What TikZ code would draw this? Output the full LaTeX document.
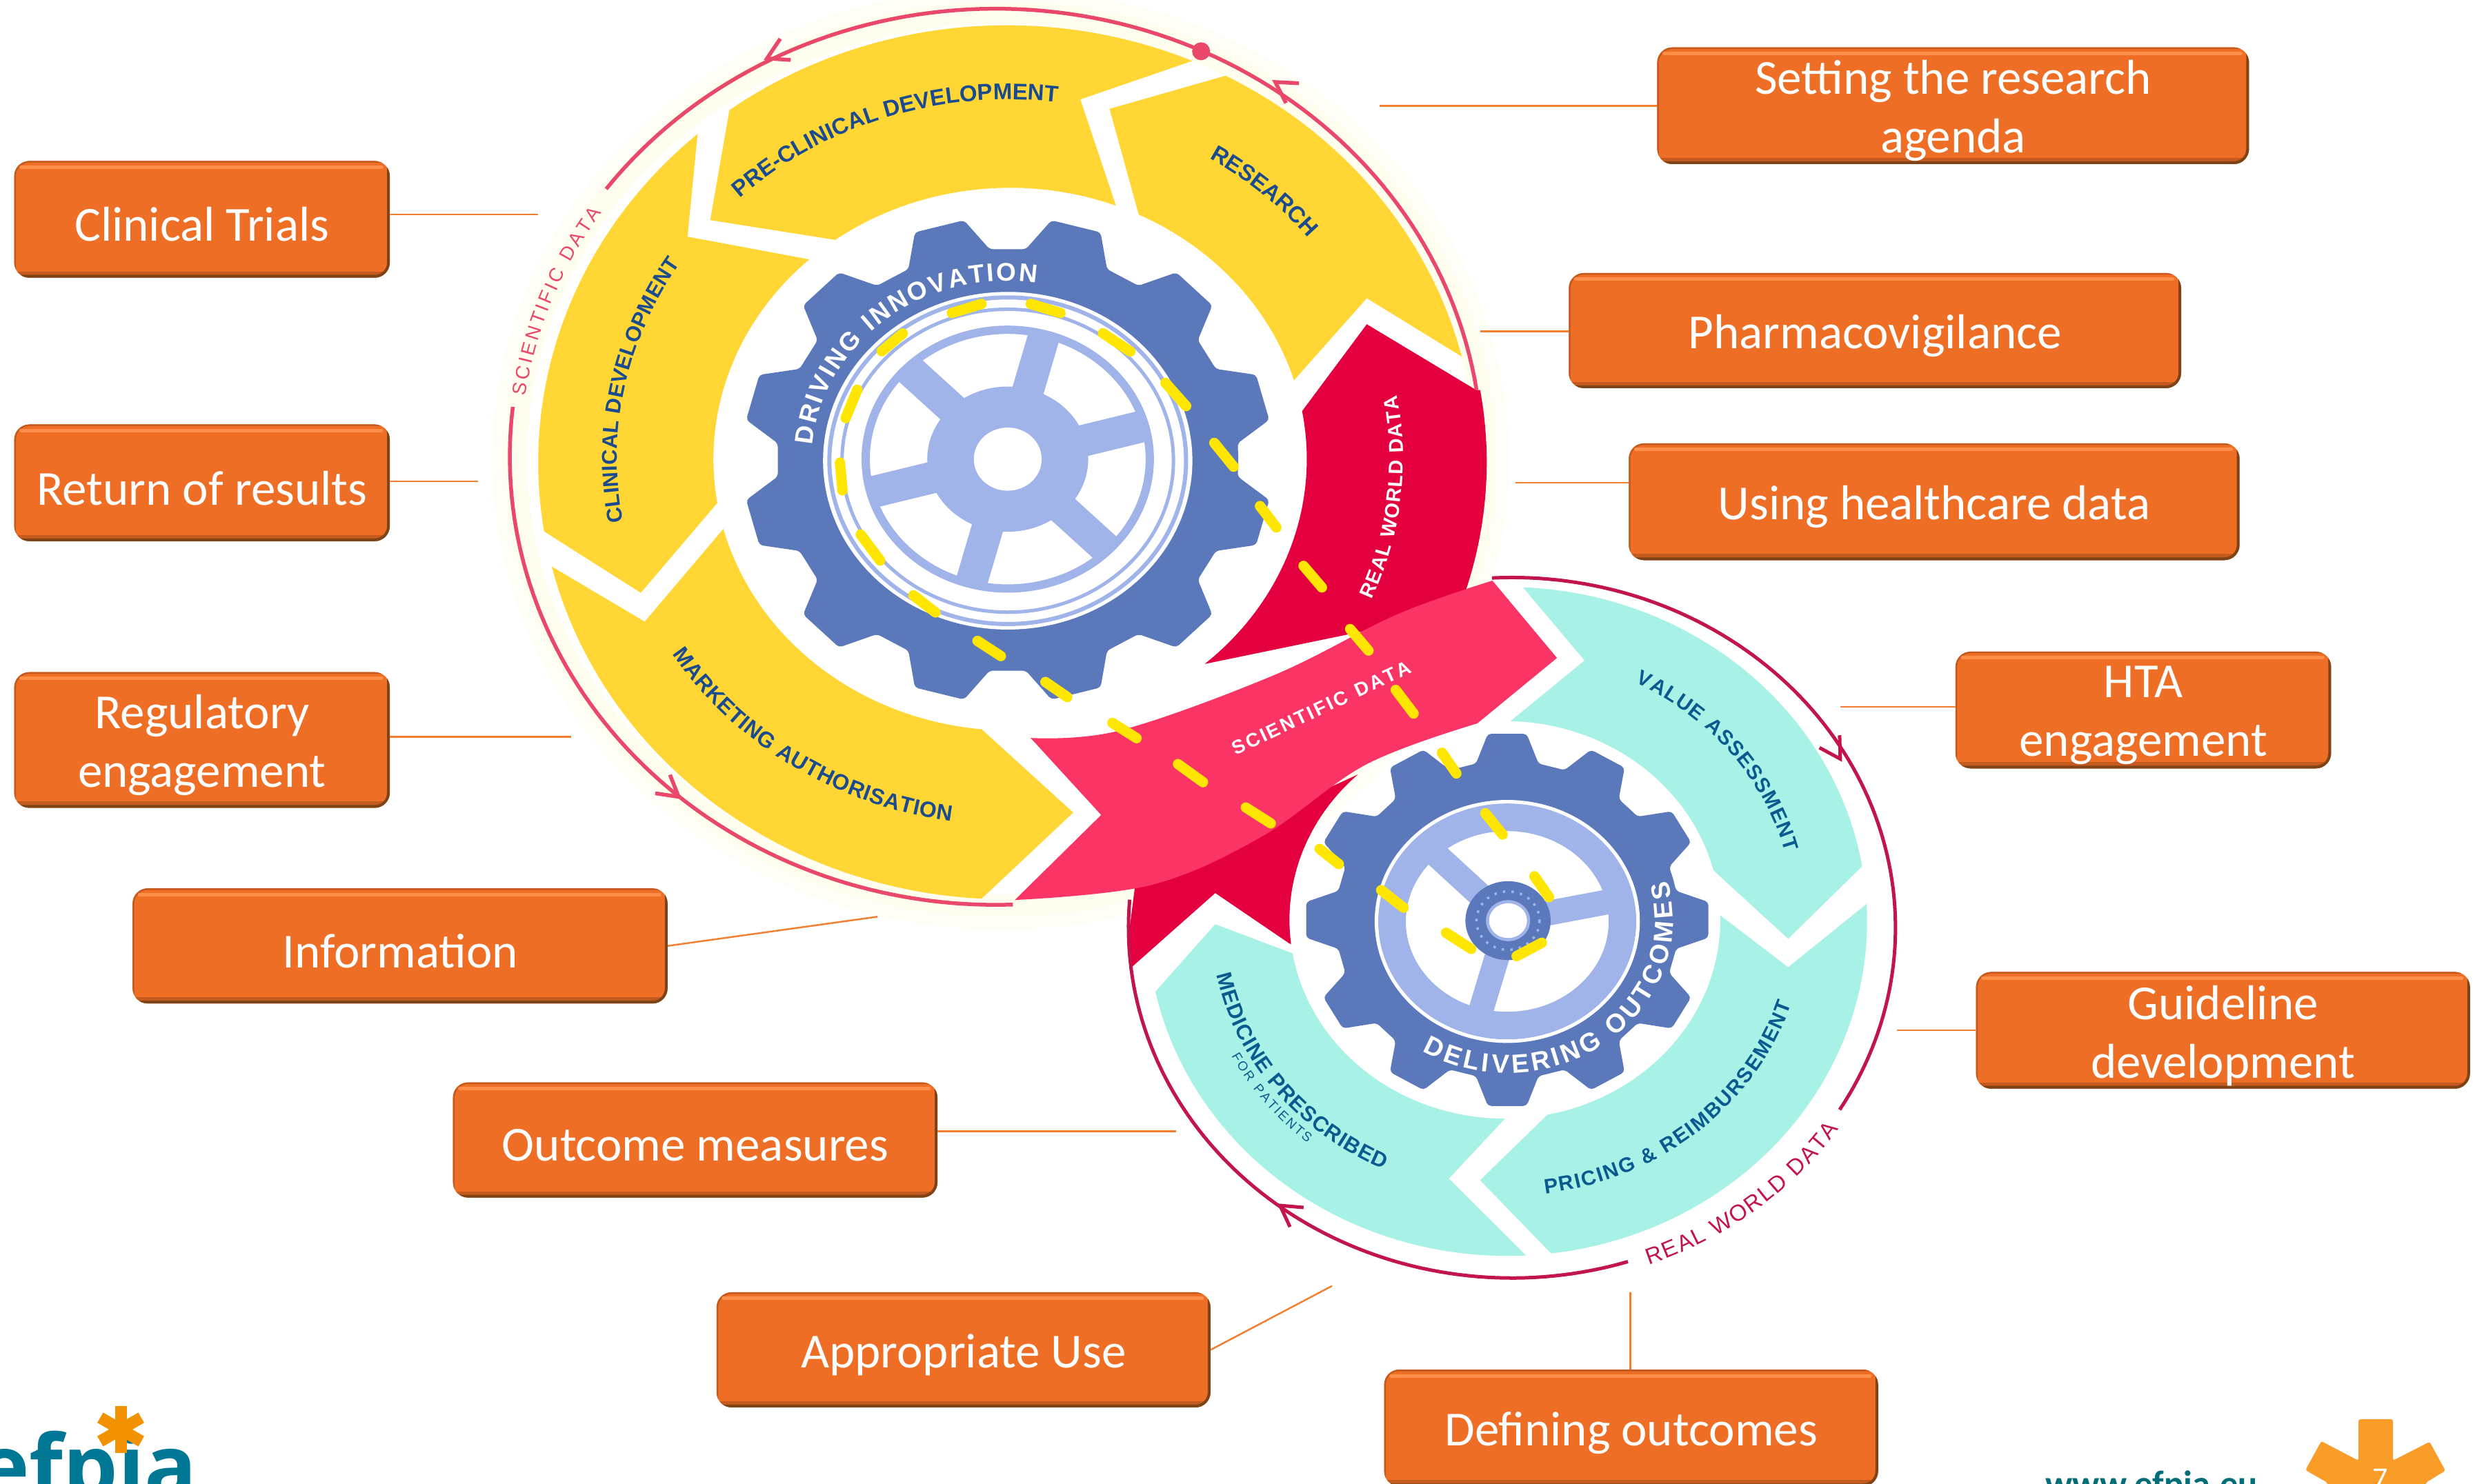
\documentclass[tikz,border=0pt]{standalone}
\usepackage{fontspec}
\setmainfont{Carlito}
\newfontfamily\lab{Liberation Sans}
\newfontfamily\logofont{Open Sans}
\usetikzlibrary{decorations.text,calc}
\definecolor{boxo}{HTML}{EE6E26}
\definecolor{boxdark}{HTML}{7E4418}
\definecolor{boxmid}{HTML}{C55A1F}
\definecolor{boxlight}{HTML}{FF8F48}
\definecolor{yel}{HTML}{FFD633}
\definecolor{ydash}{HTML}{FFE600}
\definecolor{dred}{HTML}{E4003F}
\definecolor{pinkb}{HTML}{FA3465}
\definecolor{teal1}{HTML}{A8F1E6}
\definecolor{gearb}{HTML}{5B79BA}
\definecolor{gearl}{HTML}{A0B4EA}
\definecolor{navy}{HTML}{1B4B8F}
\definecolor{tnavy}{HTML}{0B5A8F}
\definecolor{lineup}{HTML}{E9486A}
\definecolor{linelo}{HTML}{C2154B}
\definecolor{conn}{HTML}{F28030}
\definecolor{efteal}{HTML}{007794}
\definecolor{webteal}{HTML}{006D77}
\definecolor{ast1}{HTML}{F39200}
\definecolor{ast2}{HTML}{FA9C28}
\newcommand\earc[6]{-- plot[domain=#5:#6,samples=48] ({#1+#3*cos(\x)},{#2+#4*sin(\x)})}
\newcommand\outerY[2]{\earc{638}{293}{297}{277}{#1}{#2}}
\newcommand\innerY[2]{\earc{640}{291}{188}{172}{#1}{#2}}
\newcommand\outerT[2]{\earc{955}{584}{228}{212}{#1}{#2}}
\newcommand\innerT[2]{\earc{953.5}{583}{136.5}{126}{#1}{#2}}
% arc label: cx cy rx ry t0 t1 font+colour text
\newcommand\arclabel[8]{\path[decorate,decoration={text along path,text align={fit to path},text={|#7|#8}}] plot[domain=#5:#6,samples=60] ({#1+#3*cos(\x)},{#2+#4*sin(\x)});}
\newcommand\gearshape[7]{% cx cy rx ry root first n-list
  \fill[gearb,rounded corners=5pt] ({#1+#5*#3*cos(#6-15)},{#2+#5*#4*sin(#6-15)})
  \foreach \g in {#7}{
    -- ({#1+#5*#3*cos(#6+\g-10.5)},{#2+#5*#4*sin(#6+\g-10.5)})
    -- ({#1+#3*cos(#6+\g-5.5)},{#2+#4*sin(#6+\g-5.5)})
    -- ({#1+#3*cos(#6+\g+5.5)},{#2+#4*sin(#6+\g+5.5)})
    -- ({#1+#5*#3*cos(#6+\g+10.5)},{#2+#5*#4*sin(#6+\g+10.5)})
  } -- cycle;}
\newcommand\vhead[4]{\draw[#1,line join=miter] ([shift={(#4+150:15)}]#2,#3) -- (#2,#3) -- ([shift={(#4-150:15)}]#2,#3);}
\newcommand\obox[6]{\node[obox,minimum width={(#4-#2+1)*2.288pt},minimum height={(#5-#3+1)*2.288pt}] (#1) at ({(#2+#4+1)/2},{(#3+#5+1)/2}) {};
  \node[oboxtext] (#1text) at ([yshift=-7.5pt]#1.center) {#6};}
\tikzset{
  obox/.style={rounded corners=22pt,fill=boxo,inner sep=0pt,
    path picture={
      \draw[boxmid,line width=18pt] (path picture bounding box.south west)--(path picture bounding box.south east);
      \draw[boxdark,line width=8pt] (path picture bounding box.south west)--(path picture bounding box.south east)--(path picture bounding box.north east);
      \draw[boxmid,line width=5pt] (path picture bounding box.south west)--(path picture bounding box.north west)--(path picture bounding box.north east);
      \draw[boxlight,line width=5pt,line cap=round] ([xshift=10pt,yshift=-9pt]path picture bounding box.north west)--([xshift=-12pt,yshift=-9pt]path picture bounding box.north east);
    }},
  oboxtext/.style={inner sep=0pt,text=white,align=center,font=\fontsize{71}{85}\selectfont},
  connector/.style={conn,line width=2.5pt},
  upl/.style={lineup,line width=5.5pt},
  lowl/.style={linelo,line width=5pt},
  yd/.style={ydash,line width=15pt,line cap=round,shorten >=5pt,shorten <=5pt},
}
\begin{document}
\begin{tikzpicture}[x=2.288pt,y=-2.288pt]
\clip (0,0) rectangle (1568.18,940.13);
\fill[white] (0,0) rectangle (1568.18,940.13);
% glow
\fill[color={rgb,255:red,255;green,254;blue,246}] (634,291) ellipse [x radius=322,y radius=298];
\fill[color={rgb,255:red,255;green,253;blue,238}] (634,291) ellipse [x radius=314,y radius=290];
\fill[white] (634,291) ellipse [x radius=300,y radius=276];
% yellow segments
\fill[yel] (703,69) \outerY{-62.2}{-14} -- (866,189) \innerY{-16.9}{-64.3} -- cycle;
\fill[yel] (450,139.5) \outerY{-126.3}{-66.7} -- (684.5,63) \innerY{-69.1}{-126.1} -- cycle;
\fill[yel] (406,375.7) \outerY{170.9}{228.7} -- (435.6,150) \innerY{227.4}{170.7} -- cycle;
\fill[yel] (408.5,394) \outerY{166.2}{93.1} -- (680,515) \innerY{95.5}{165.1} -- cycle;
% dark red
\fill[dred] (866,205.5) -- (935,247) \earc{640}{293}{302}{277}{-9.5}{20} \innerY{49}{-10.2} -- cycle;
\fill[dred] (770,566) -- (817,598) \innerT{173}{227} -- (720,555) -- (715.5,590) -- (717,613) -- cycle;
% teal segments
\fill[teal1] (1004,418.6) \outerT{-87.5}{-9.5} -- (1133,595) \innerT{-14.4}{-88.5} -- cycle;
\fill[teal1] (1133,613) \outerT{-3}{83} -- (937.8,748) \innerT{78.6}{-1.3} -- cycle;
\fill[teal1] (770,585.8) \outerT{167.9}{87} -- (918,747) \innerT{90}{170.3} -- cycle;
% pink band
\fill[pinkb] (653,467.7) -- plot[smooth,tension=.6] coordinates {(653,467.7)(709.5,463)(807,428)(885,389.5)(945.6,368)}
  -- (986.5,417) -- plot[smooth,tension=.6] coordinates {(936,458.5)(865.6,484.5)(799,530.5)(729,561)(643,570.4)}
  -- (697.7,516.5) -- cycle;
% circular lines
\draw[upl] plot[domain=216.7:351.4,samples=90] ({631+308*cos(\x)},{289.5+284*sin(\x)});
\draw[upl] plot[domain=186.4:88,samples=70] ({631+308*cos(\x)},{289.5+284*sin(\x)});
\fill[lineup] (761,32.5) circle[radius=13pt];
\vhead{upl}{486}{37}{153.9}
\vhead{upl}{808}{52}{212.9}
\vhead{upl}{430}{505}{38.5}
\draw[lowl] plot[domain=-93:31.3,samples=90] ({958+243*cos(\x)},{588+222*sin(\x)});
\draw[lowl] plot[domain=72.4:184.6,samples=80] ({958+243*cos(\x)},{588+222*sin(\x)});
\vhead{lowl}{1166}{481}{58.4}
\vhead{lowl}{811}{764}{215}
% big gear
\gearshape{638.5}{291.5}{168}{154}{0.87}{15}{0,30,60,90,120,150,180,210,240,270,300,330}
\fill[white] (638.5,292) ellipse [x radius=117,y radius=107];
\draw[gearl,line width=6pt] (638.5,292) ellipse [x radius=113,y radius=103.5];
\draw[gearl,line width=5pt] (638.5,292) ellipse [x radius=105,y radius=96];
\draw[gearl,line width=12pt] (638.5,291) ellipse [x radius=90,y radius=82];
\foreach \a in {-75,-15,45,105,165,225}
  \draw[gearl,line width=46pt] (638.5,291) -- ({638.5+88*cos(\a)},{291+80*sin(\a)});
\fill[gearl] (638.5,291) ellipse [x radius=51,y radius=46];
\fill[white] (638.5,291) ellipse [x radius=21.5,y radius=20];
% small gear
\gearshape{955}{583}{128}{118.5}{0.85}{0}{0,30,60,90,120,150,180,210,240,270,300,330}
\fill[white] (955,584) ellipse [x radius=84,y radius=77];
\draw[gearl,line width=40pt] (955,584) ellipse [x radius=73,y radius=66];
\foreach \a in {-12,105,226}
  \draw[gearl,line width=36pt] (955.5,583.5) -- ({955.5+70*cos(\a)},{583.5+62*sin(\a)});
\fill[gearb] (955.5,583.5) ellipse [x radius=27,y radius=25];
\draw[gearl,line width=3.5pt,dash pattern=on 3.5pt off 9pt] (955.5,583.5) ellipse [x radius=20,y radius=18.5];
\fill[gearl] (955.5,583.5) ellipse [x radius=14,y radius=13];
\fill[white] (955.5,583.5) ellipse [x radius=12,y radius=11];
% yellow dashes
\foreach \xa/\ya/\xb/\yb in {601/199/624/192,651/192/674/199,697/210/718/224,737/241/753/259,768/279/783/297.5,797/319/810/336,824.5/357/839/374,854/397/868.5/414,883/435.5/897/454,573.6/210/557/224,544/245/535/267,532/291/534/313,544/337/559/357,577/376/594.5/389.5,617.5/405/636/417,660.6/431/678/443,703/457/722/469,744.6/483/764/497,787.5/510.6/807/523,834.4/536.7/850/549,873.4/562.8/891/576.6,914.4/590/934/602.6,959/607/978.8/596.5,971/553.6/982.7/570.4,939.7/513.7/953.4/530.6,912.4/475.3/924/492}
  \draw[yd] (\xa,\ya) -- (\xb,\yb);
% arc labels
\newcommand\bl[1]{\lab\bfseries\fontsize{#1}{#1}\selectfont}
\arclabel{640}{291}{249}{228}{-133.5}{-83}{\bl{33}\color{navy}}{PRE-CLINICAL DEVELOPMENT}
\arclabel{640}{291}{243}{223}{-58.7}{-39}{\bl{33}\color{navy}}{RESEARCH}
\arclabel{640}{291}{249}{228}{170}{213}{\bl{31}\color{navy}}{CLINICAL DEVELOPMENT}
\arclabel{640}{291}{253}{232}{147.8}{98.4}{\bl{32}\color{navy}}{MARKETING AUTHORISATION}
\arclabel{640}{291}{249}{228}{23}{-10.3}{\bl{29}\color{white}}{REAL WORLD DATA}
\arclabel{631}{289.5}{301}{277}{188}{214}{\lab\fontsize{28}{28}\selectfont\color{lineup}}{SCIENTIFIC DATA}
\arclabel{638.5}{291.5}{124}{113.5}{184.8}{278.6}{\bl{37}\color{white}}{DRIVING INNOVATION}
\path[decorate,decoration={text along path,text align={fit to path},text={|\bl{28}\color{white}|SCIENTIFIC DATA}}] plot[smooth] coordinates {(783,479)(840,452)(895,426)};
\arclabel{955}{583}{182}{168}{-63.5}{-14.8}{\bl{30}\color{tnavy}}{VALUE ASSESSMENT}
\arclabel{955}{583}{189}{175}{82.7}{17.6}{\bl{30}\color{tnavy}}{PRICING {\&} REIMBURSEMENT}
\arclabel{955}{583}{188}{174}{168.5}{114.6}{\bl{31}\color{tnavy}}{MEDICINE PRESCRIBED}
\arclabel{955}{583}{198}{184}{152}{129.7}{\lab\fontsize{19}{19}\selectfont\color{tnavy}}{FOR PATIENTS}
\arclabel{955}{583}{105}{97}{121}{-14.9}{\bl{38}\color{white}}{DELIVERING OUTCOMES}
\arclabel{958}{588}{250}{228}{69.7}{34}{\lab\fontsize{33}{33}\selectfont\color{linelo}}{REAL WORLD DATA}
% boxes
\obox{setting}{1050}{30}{1424}{103}{Setting the research\\agenda}
\obox{pharma}{994}{173}{1381}{245}{Pharmacovigilance}
\obox{using}{1032}{281}{1418}{354}{Using healthcare data}
\obox{hta}{1239}{413}{1476}{486}{HTA\\engagement}
\obox{guide}{1252}{616}{1564}{689}{Guideline\\development}
\obox{defining}{877}{868}{1189}{941}{Defining outcomes}
\obox{appro}{454}{819}{766}{891}{Appropriate Use}
\obox{outcome}{287}{686}{593}{758}{Outcome measures}
\obox{info}{84}{563}{422}{635}{Information}
\obox{regul}{9}{426}{246}{511}{Regulatory\\engagement}
\obox{return}{9}{269}{246}{342}{Return of results}
\obox{clinical}{9}{102}{246}{175}{Clinical Trials}
% connectors
\coordinate (fsetting) at (874,67);
\coordinate (fpharma) at (938,210);
\coordinate (fusing) at (960,306);
\coordinate (fhta) at (1166,448);
\coordinate (fguide) at (1202,653);
\coordinate (fdefining) at (1033,819);
\coordinate (fappro) at (844,815);
\coordinate (foutcome) at (745,717);
\coordinate (finfo) at (556,581);
\coordinate (fregul) at (362,467);
\coordinate (freturn) at (303,305);
\coordinate (fclinical) at (341,136);
\draw[connector] (fsetting) -- (fsetting -| setting.west);
\draw[connector] (fpharma) -- (fpharma -| pharma.west);
\draw[connector] (fusing) -- (fusing -| using.west);
\draw[connector] (fhta) -- (fhta -| hta.west);
\draw[connector] (fguide) -- (fguide -| guide.west);
\draw[connector] (fdefining) -- (fdefining |- defining.north);
\draw[connector] (fappro) -- (appro.east);
\draw[connector] (foutcome) -- (foutcome -| outcome.east);
\draw[connector] (finfo) -- (info.east);
\draw[connector] (fregul) -- (fregul -| regul.east);
\draw[connector] (freturn) -- (freturn -| return.east);
\draw[connector] (fclinical) -- (fclinical -| clinical.east);
% logo
\node[anchor=base west,inner sep=0pt,text=efteal,font=\logofont\bfseries\fontsize{126}{126}\selectfont] (efpia) at (-14,949) {efpia};
\coordinate (astnode) at (76.5,906);
\foreach \a in {90,30,-30}
  \draw[ast1,line width=17pt] ([shift={(\a:15)}]astnode) -- ([shift={(\a+180:15)}]astnode);
% footer
\node[anchor=base west,inner sep=0pt,text=webteal,font=\bfseries\fontsize{52.5}{52.5}\selectfont] (web) at (1296,948) {www.efpia.eu};
\fill[ast2,rounded corners=3pt] (1494.3,899.5) -- (1516.2,899.5) -- (1516.2,925.7) -- (1539.4,913.8) -- (1549.4,932.1) -- (1537,939.7) -- (1537,945) -- (1474.7,945) -- (1474.7,939.7) -- (1460.7,931.7) -- (1470.8,913.4) -- (1494.3,925.7) -- cycle;
\node[anchor=base,inner sep=0pt,text=white,font=\fontsize{44}{44}\selectfont] (pagenum) at (1508,943.6) {7};
\end{tikzpicture}
\end{document}
